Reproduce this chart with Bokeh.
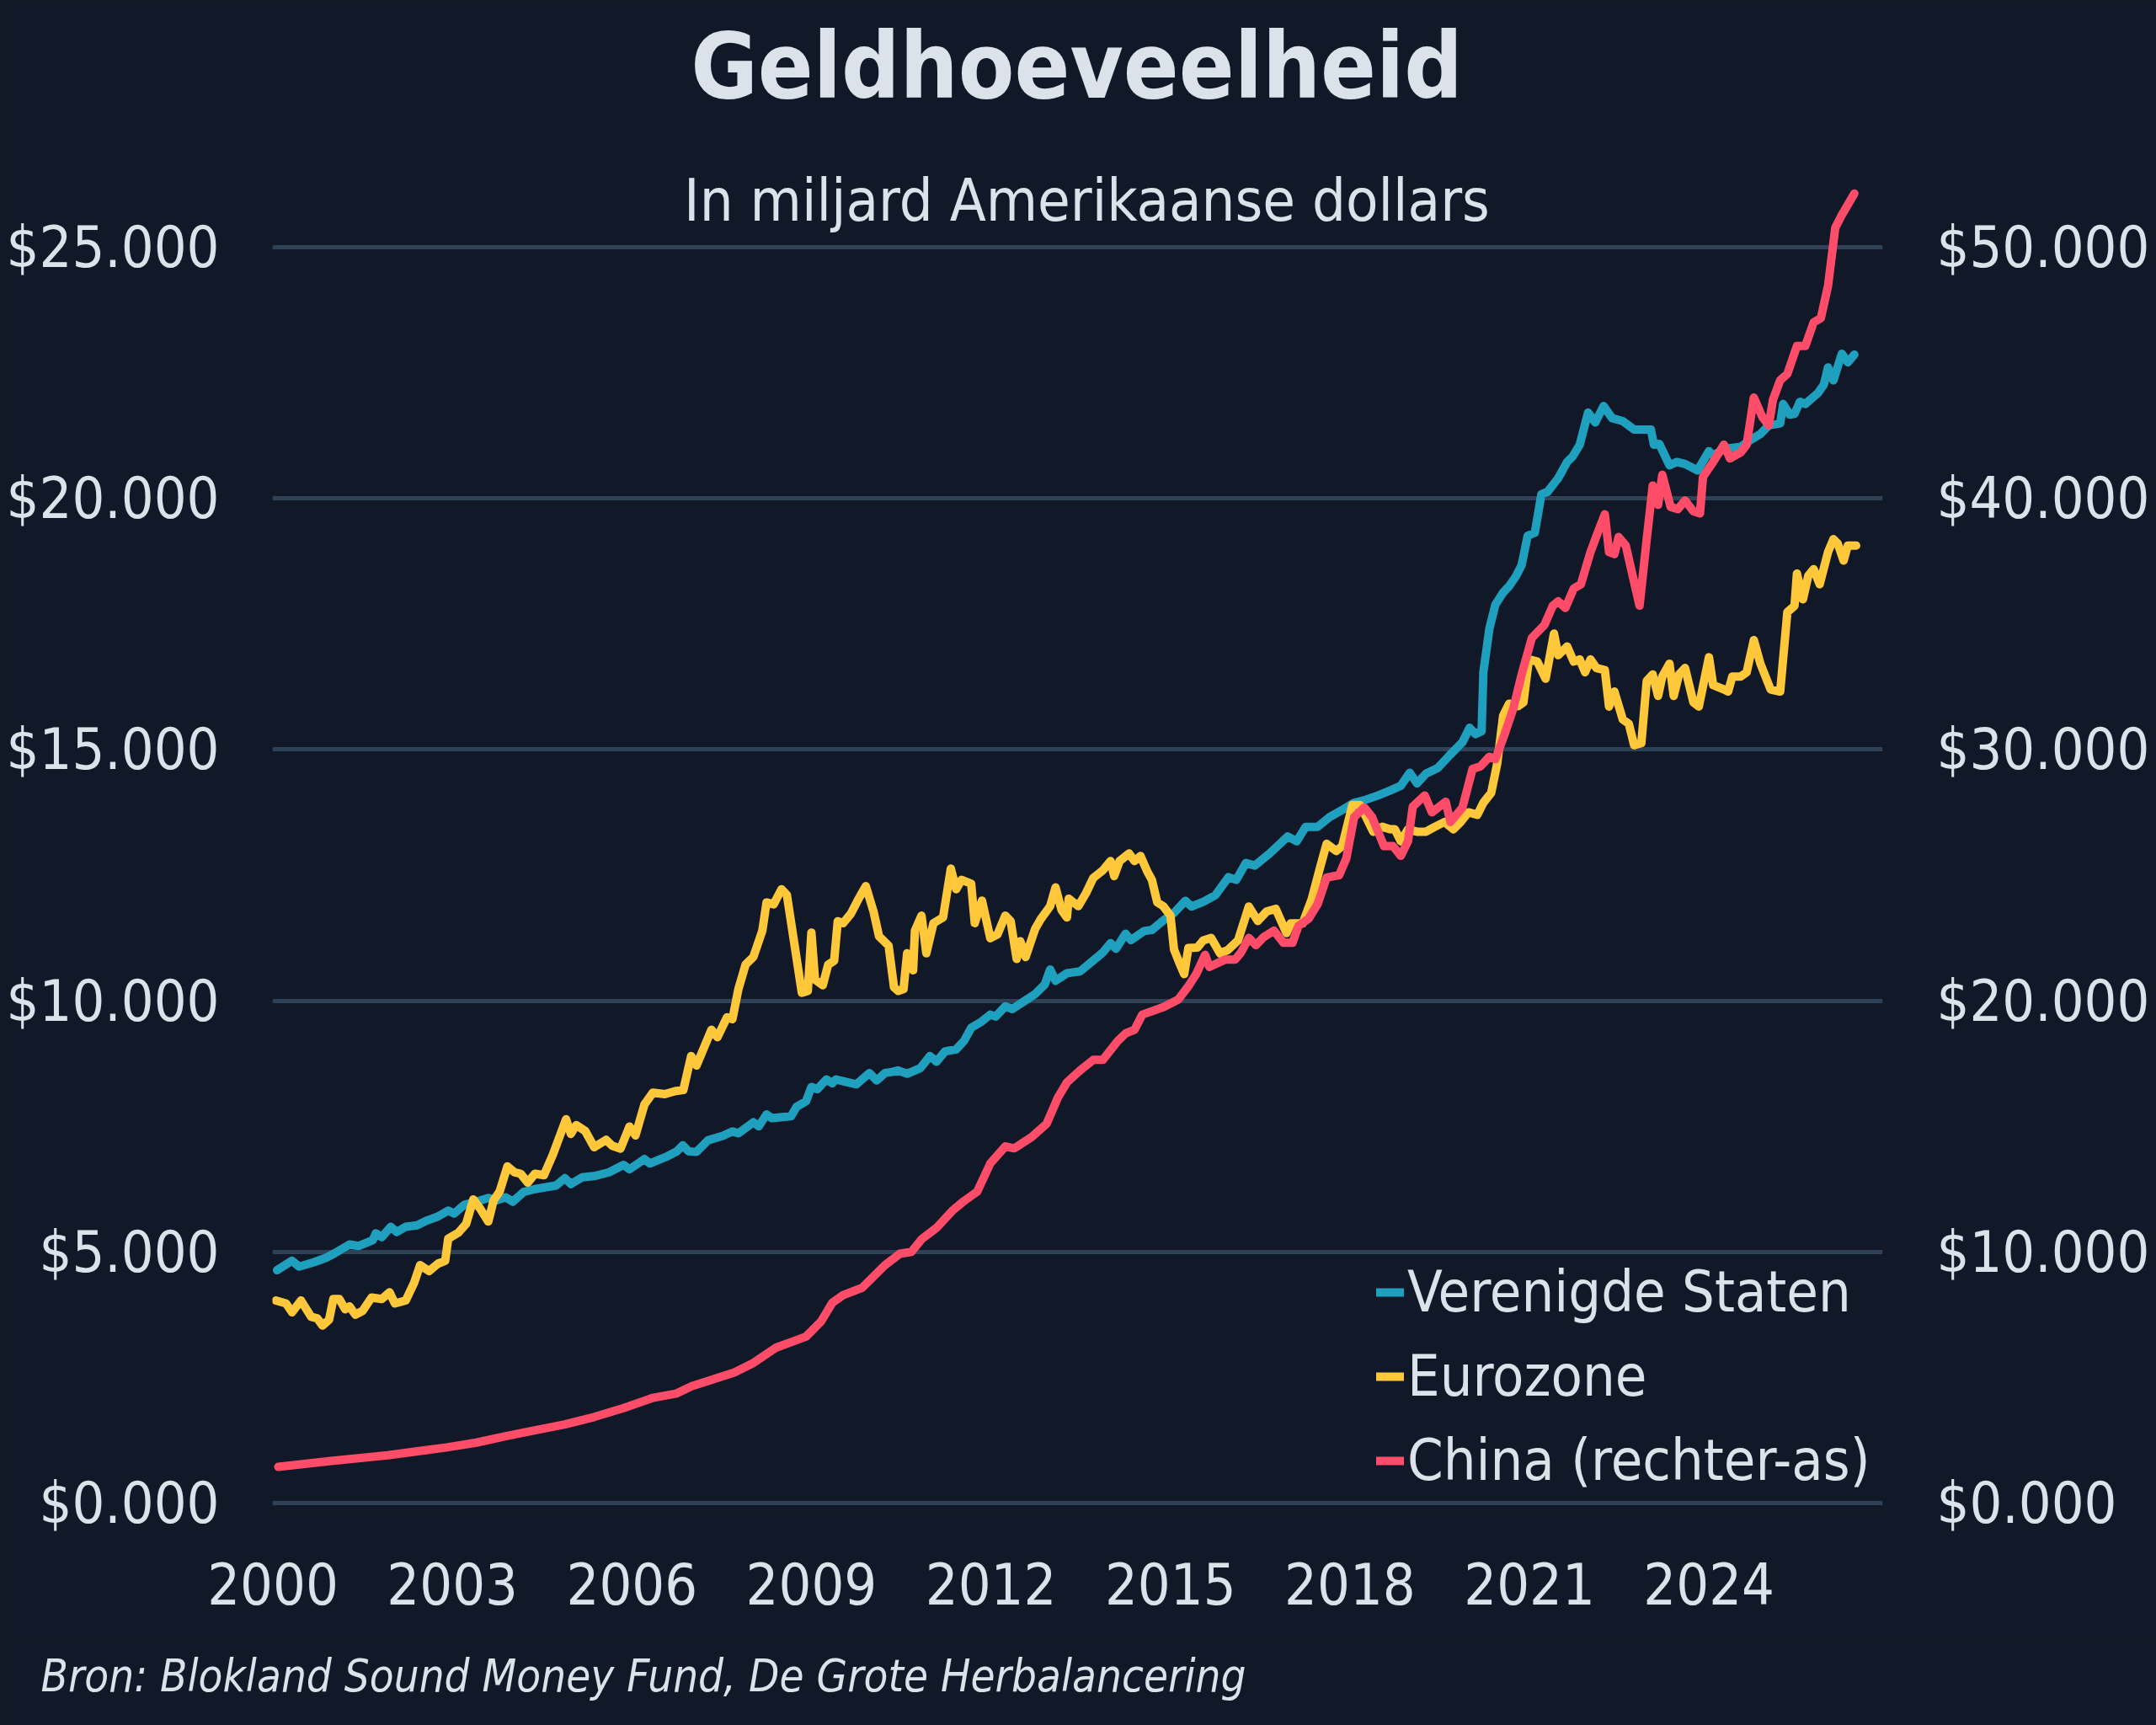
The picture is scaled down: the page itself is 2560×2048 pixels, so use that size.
from bokeh.plotting import figure
from bokeh.layouts import column
from bokeh.models import Range1d, LinearAxis, FixedTicker, Label, Legend, LegendItem
from bokeh.embed import file_html
from bokeh.resources import INLINE

# ---------------- data ----------------
us_year = [
    2000.07, 2000.32, 2000.44, 2000.69, 2000.89, 2001.03, 2001.28, 2001.43, 2001.67, 2001.72,
    2001.82, 2001.97, 2002.07, 2002.22, 2002.41, 2002.56, 2002.76, 2002.93, 2003.03, 2003.20,
    2003.40, 2003.60, 2003.74, 2003.89, 2004.01, 2004.19, 2004.38, 2004.73, 2004.88, 2004.98,
    2005.17, 2005.37, 2005.62, 2005.86, 2005.96, 2006.21, 2006.30, 2006.60, 2006.75, 2006.85,
    2006.95, 2007.08, 2007.27, 2007.52, 2007.68, 2007.78, 2008.03, 2008.12, 2008.25, 2008.34,
    2008.66, 2008.75, 2008.91, 2009.00, 2009.10, 2009.25, 2009.35, 2009.41, 2009.75, 2009.97,
    2010.09, 2010.23, 2010.35, 2010.45, 2010.60, 2010.82, 2010.98, 2011.09, 2011.23, 2011.42,
    2011.55, 2011.67, 2011.83, 2011.99, 2012.08, 2012.24, 2012.36, 2012.55, 2012.74, 2012.90,
    2012.99, 2013.08, 2013.27, 2013.49, 2013.68, 2013.87, 2014.00, 2014.09, 2014.25, 2014.34,
    2014.56, 2014.69, 2014.88, 2015.06, 2015.25, 2015.35, 2015.55, 2015.75, 2015.97, 2016.10,
    2016.26, 2016.41, 2016.66, 2016.96, 2017.11, 2017.26, 2017.46, 2017.66, 2017.87, 2018.07,
    2018.24, 2018.47, 2018.67, 2018.85, 2019.00, 2019.12, 2019.27, 2019.47, 2019.68, 2019.88,
    2020.00, 2020.10, 2020.20, 2020.23, 2020.33, 2020.43, 2020.56, 2020.66, 2020.78, 2020.87,
    2020.97, 2021.09, 2021.20, 2021.30, 2021.48, 2021.63, 2021.72, 2021.84, 2021.98, 2022.10,
    2022.24, 2022.38, 2022.56, 2022.75, 2022.94, 2023.03, 2023.08, 2023.17, 2023.34, 2023.46,
    2023.60, 2023.81, 2024.00, 2024.07, 2024.25, 2024.53, 2024.68, 2024.86, 2025.00, 2025.19,
    2025.24, 2025.35, 2025.43, 2025.52, 2025.61, 2025.82, 2025.92, 2025.99, 2026.08, 2026.22,
    2026.32, 2026.43,
]
us_value = [
    4636, 4824, 4707, 4795, 4883, 4971, 5147, 5118, 5235, 5370,
    5294, 5499, 5394, 5499, 5529, 5617, 5705, 5822, 5763, 5939,
    5998, 6074, 6027, 6086, 5998, 6192, 6250, 6321, 6468, 6350,
    6485, 6509, 6585, 6732, 6644, 6849, 6761, 6908, 7000, 7120,
    7000, 6990, 7220, 7310, 7400, 7360, 7580, 7500, 7736, 7661,
    7699, 7886, 7998, 8283, 8238, 8433, 8358, 8433, 8336, 8561,
    8411, 8561, 8583, 8613, 8546, 8658, 8898, 8785, 8988, 9033,
    9198, 9460, 9573, 9723, 9685, 9888, 9835, 9985, 10135, 10322,
    10622, 10397, 10547, 10584, 10772, 10959, 11147, 11034, 11334, 11207,
    11387, 11409, 11597, 11747, 11990, 11875, 11971, 12100, 12459, 12406,
    12740, 12690, 12933, 13269, 13173, 13462, 13462, 13654, 13798, 13942,
    13990, 14087, 14183, 14279, 14538, 14327, 14519, 14635, 14904, 15144,
    15433, 15308, 15365, 16538, 17404, 17885, 18125, 18250, 18462, 18675,
    19256, 19316, 20085, 20128, 20402, 20726, 20829, 21068, 21709, 21513,
    21838, 21598, 21538, 21368, 21368, 21368, 21068, 21085, 20658, 20726,
    20684, 20556, 20940, 20855, 20983, 21026, 21154, 21282, 21453, 21496,
    21880, 21667, 21684, 21923, 21880, 22094, 22265, 22607, 22350, 22880,
    22709, 22863,
]

eu_year = [
    2000.05, 2000.22, 2000.32, 2000.47, 2000.64, 2000.74, 2000.83, 2000.94, 2001.01, 2001.11,
    2001.21, 2001.28, 2001.38, 2001.50, 2001.65, 2001.82, 2001.95, 2002.04, 2002.22, 2002.36,
    2002.46, 2002.61, 2002.76, 2002.88, 2002.93, 2003.10, 2003.23, 2003.35, 2003.47, 2003.60,
    2003.69, 2003.79, 2003.92, 2004.04, 2004.14, 2004.26, 2004.38, 2004.53, 2004.68, 2004.90,
    2004.98, 2005.07, 2005.22, 2005.37, 2005.57, 2005.67, 2005.81, 2005.96, 2006.06, 2006.21,
    2006.35, 2006.55, 2006.72, 2006.86, 2006.99, 2007.08, 2007.33, 2007.43, 2007.59, 2007.68,
    2007.78, 2007.90, 2008.03, 2008.18, 2008.25, 2008.37, 2008.50, 2008.59, 2008.72, 2008.84,
    2008.94, 2009.00, 2009.06, 2009.19, 2009.28, 2009.38, 2009.44, 2009.53, 2009.66, 2009.79,
    2009.91, 2010.04, 2010.13, 2010.29, 2010.38, 2010.45, 2010.54, 2010.60, 2010.70, 2010.73,
    2010.84, 2010.92, 2011.04, 2011.20, 2011.33, 2011.42, 2011.51, 2011.67, 2011.73, 2011.85,
    2011.99, 2012.11, 2012.24, 2012.33, 2012.43, 2012.49, 2012.58, 2012.74, 2012.83, 2012.99,
    2013.08, 2013.18, 2013.27, 2013.30, 2013.46, 2013.59, 2013.71, 2013.87, 2014.00, 2014.06,
    2014.15, 2014.31, 2014.40, 2014.50, 2014.62, 2014.69, 2014.78, 2014.88, 2015.00, 2015.06,
    2015.15, 2015.23, 2015.30, 2015.45, 2015.55, 2015.68, 2015.83, 2015.96, 2016.13, 2016.31,
    2016.46, 2016.61, 2016.76, 2016.94, 2017.01, 2017.21, 2017.36, 2017.51, 2017.61, 2017.77,
    2017.87, 2018.04, 2018.17, 2018.29, 2018.39, 2018.54, 2018.67, 2018.75, 2018.85, 2018.97,
    2019.12, 2019.27, 2019.42, 2019.58, 2019.73, 2019.85, 2019.98, 2020.13, 2020.23, 2020.36,
    2020.46, 2020.56, 2020.66, 2020.81, 2020.90, 2020.99, 2021.13, 2021.27, 2021.41, 2021.48,
    2021.63, 2021.74, 2021.84, 2021.93, 2022.02, 2022.12, 2022.26, 2022.33, 2022.42, 2022.56,
    2022.66, 2022.75, 2022.87, 2022.96, 2023.06, 2023.15, 2023.22, 2023.34, 2023.41, 2023.50,
    2023.60, 2023.74, 2023.83, 2024.00, 2024.07, 2024.25, 2024.32, 2024.39, 2024.53, 2024.63,
    2024.75, 2024.86, 2025.03, 2025.19, 2025.31, 2025.43, 2025.47, 2025.57, 2025.66, 2025.75,
    2025.85, 2025.99, 2026.08, 2026.15, 2026.25, 2026.32, 2026.46,
]
eu_value = [
    4032, 3973, 3797, 4032, 3709, 3680, 3533, 3651, 4061, 4061,
    3856, 3915, 3750, 3827, 4091, 4061, 4196, 3973, 4032, 4384,
    4736, 4619, 4766, 4824, 5264, 5382, 5558, 6045, 5851, 5605,
    6027, 6203, 6702, 6585, 6556, 6380, 6556, 6526, 6937, 7641,
    7348, 7524, 7407, 7084, 7231, 7113, 7055, 7495, 7319, 7935,
    8170, 8140, 8200, 8223, 8898, 8710, 9423, 9273, 9670, 9633,
    10232, 10720, 10870, 11394, 11957, 11919, 12219, 12107, 11095, 10158,
    10195, 11357, 10420, 10307, 10720, 10795, 11582, 11544, 11732, 12032,
    12280, 11769, 11282, 11095, 10270, 10195, 10232, 10945, 10607, 11394,
    11694, 10945, 11544, 11657, 12631, 12219, 12406, 12331, 11544, 11994,
    11244, 11319, 11694, 11582, 10832, 11185, 10870, 11432, 11619, 11882,
    12256, 11807, 11657, 12032, 11882, 12144, 12444, 12594, 12781, 12481,
    12781, 12931, 12781, 12881, 12556, 12406, 11957, 11882, 11694, 11020,
    10750, 10530, 11050, 11058, 11202, 11250, 10942, 11010, 11202, 11875,
    11587, 11779, 11827, 11346, 11539, 11539, 12019, 12692, 13125, 12981,
    13077, 13894, 13894, 13606, 13365, 13462, 13413, 13413, 13173, 13413,
    13365, 13365, 13462, 13558, 13413, 13558, 13750, 13702, 13942, 14135,
    14712, 15673, 15913, 15865, 15940, 16795, 16752, 16410, 17308, 16880,
    17051, 16752, 16795, 16538, 16795, 16624, 16581, 15855, 16154, 15598,
    15513, 15085, 15128, 16368, 16496, 16068, 16453, 16709, 16068, 16496,
    16624, 15940, 15855, 16838, 16282, 16197, 16154, 16453, 16453, 16538,
    17179, 16709, 16197, 16154, 17735, 17863, 18504, 17991, 18462, 18590,
    18291, 18932, 19188, 19103, 18761, 19060, 19060,
]

# China, read against the right-hand axis
cn_year = [
    2000.09, 2000.94, 2001.92, 2002.91, 2003.40, 2003.89, 2004.38, 2004.88, 2005.37, 2005.86,
    2006.35, 2006.75, 2007.00, 2007.33, 2007.71, 2008.03, 2008.40, 2008.91, 2009.16, 2009.35,
    2009.53, 2009.85, 2010.23, 2010.48, 2010.67, 2010.85, 2011.10, 2011.36, 2011.55, 2011.77,
    2011.99, 2012.24, 2012.39, 2012.68, 2012.93, 2013.12, 2013.27, 2013.49, 2013.71, 2013.87,
    2014.12, 2014.25, 2014.40, 2014.53, 2014.88, 2015.13, 2015.30, 2015.43, 2015.58, 2015.65,
    2015.91, 2016.08, 2016.18, 2016.31, 2016.43, 2016.56, 2016.73, 2016.89, 2017.04, 2017.14,
    2017.31, 2017.46, 2017.61, 2017.82, 2017.94, 2018.07, 2018.24, 2018.37, 2018.57, 2018.72,
    2018.85, 2018.97, 2019.05, 2019.25, 2019.37, 2019.60, 2019.68, 2019.88, 2020.05, 2020.18,
    2020.33, 2020.43, 2020.58, 2020.73, 2020.87, 2021.04, 2021.25, 2021.39, 2021.48, 2021.60,
    2021.74, 2021.86, 2022.02, 2022.14, 2022.26, 2022.33, 2022.42, 2022.49, 2022.61, 2022.70,
    2022.84, 2022.96, 2023.06, 2023.15, 2023.22, 2023.36, 2023.48, 2023.60, 2023.74, 2023.85,
    2023.90, 2024.07, 2024.25, 2024.35, 2024.53, 2024.63, 2024.75, 2024.89, 2025.00, 2025.07,
    2025.19, 2025.31, 2025.47, 2025.61, 2025.75, 2025.87, 2025.99, 2026.11, 2026.22, 2026.43,
]
cn_value = [
    1440, 1667, 1902, 2218, 2406, 2665, 2899, 3134, 3427, 3779,
    4190, 4366, 4650, 4903, 5200, 5578, 6177, 6627, 7226, 7976,
    8276, 8575, 9475, 9925, 10000, 10525, 10975, 11649, 12024, 12399,
    13523, 14198, 14123, 14572, 15097, 16147, 16746, 17226, 17646, 17646,
    18396, 18696, 18845, 19445, 19745, 20045, 20577, 21058, 21827, 21346,
    21635, 21635, 21923, 22500, 22212, 22538, 22788, 22308, 22308, 22981,
    23269, 23846, 24904, 25000, 25673, 27308, 27692, 27308, 26154, 26154,
    25769, 26346, 27731, 28173, 27500, 27923, 27115, 27692, 29231, 29327,
    29712, 29615, 30577, 31635, 32991, 34444, 34957, 35727, 35898, 35641,
    36410, 36581, 37863, 38632, 39368, 37863, 37778, 38461, 38120, 37180,
    35727, 38376, 40513, 39744, 40940, 39658, 39573, 39915, 39487, 39402,
    40855, 41453, 42137, 41590, 41829, 42137, 44017, 43248, 42906, 43932,
    44701, 44957, 46068, 46068, 47009, 47179, 48462, 50769, 51282, 52137,
]

series_names = ["Verenigde Staten", "Eurozone", "China (rechter-as)"]
left_ticks = [0, 5000, 10000, 15000, 20000, 25000]
left_labels = ["$0.000", "$5.000", "$10.000", "$15.000", "$20.000", "$25.000"]
right_ticks = [0, 10000, 20000, 30000, 40000, 50000]
right_labels = ["$0.000", "$10.000", "$20.000", "$30.000", "$40.000", "$50.000"]
year_ticks = [2000, 2003, 2006, 2009, 2012, 2015, 2018, 2021, 2024]
year_labels = [str(y) for y in year_ticks]

title_text = "Geldhoeveelheid"
subtitle_text = "In miljard Amerikaanse dollars"
source_text = "Bron: Blokland Sound Money Fund, De Grote Herbalancering"

# ---------------- style ----------------
BG = "#111827"
TXT = "#dbe2ea"
GRID = "#2e4157"
COL_US = "#20a0bf"
COL_EU = "#ffc83a"
COL_CN = "#ff4d69"
FONT = "DejaVu Sans Condensed"
LW = 10

W, H = 2560, 2048
SRC_H = 100                      # strip at the bottom for the source line
MAIN_H = H - SRC_H
FRAME_L, FRAME_R, FRAME_T, FRAME_B = 323, 2235, 0, 1793
Y0_PX, Y25_PX = 1784, 293
X2000_PX, PX_PER_YEAR = 323.5, 71.05
PX_PER_UNIT = (Y0_PX - Y25_PX) / 25000.0
LABEL_SHIFT = 0.40               # em offset of Label baseline in this renderer

y_start = -(FRAME_B - Y0_PX) / PX_PER_UNIT
y_end = 25000 + (Y25_PX - FRAME_T) / PX_PER_UNIT
x_start = 2000 + (FRAME_L - X2000_PX) / PX_PER_YEAR
x_end = 2000 + (FRAME_R - X2000_PX) / PX_PER_YEAR


def dx(px):
    return 2000 + (px - X2000_PX) / PX_PER_YEAR


def dy(pxy):
    return (Y0_PX - pxy) / PX_PER_UNIT


p = figure(width=W, height=MAIN_H, output_backend="svg", toolbar_location=None,
           x_range=Range1d(x_start, x_end), y_range=Range1d(y_start, y_end),
           min_border_left=FRAME_L, min_border_right=W - FRAME_R,
           min_border_top=FRAME_T, min_border_bottom=MAIN_H - FRAME_B,
           background_fill_color=BG, border_fill_color=BG,
           outline_line_color=None)
p.outline_line_alpha = 0
p.extra_y_ranges = {"china": Range1d(2 * y_start, 2 * y_end)}


def style_axis(ax, standoff):
    ax.axis_line_color = None
    ax.major_tick_line_color = None
    ax.minor_tick_line_color = None
    ax.major_tick_in = 0
    ax.major_tick_out = 0
    ax.minor_tick_in = 0
    ax.minor_tick_out = 0
    ax.major_label_text_font = FONT
    ax.major_label_text_font_size = "68px"
    ax.major_label_text_color = TXT
    ax.major_label_standoff = standoff


xa = p.xaxis[0]
xa.ticker = FixedTicker(ticks=year_ticks)
xa.major_label_overrides = {t: l for t, l in zip(year_ticks, year_labels)}
style_axis(xa, 61)

ya = p.yaxis[0]
ya.ticker = FixedTicker(ticks=left_ticks)
ya.major_label_overrides = {t: l for t, l in zip(left_ticks, left_labels)}
style_axis(ya, 63)

ra = LinearAxis(y_range_name="china", ticker=FixedTicker(ticks=right_ticks))
ra.major_label_overrides = {t: l for t, l in zip(right_ticks, right_labels)}
style_axis(ra, 64)
p.add_layout(ra, "right")

p.xgrid.visible = False
p.ygrid.grid_line_color = GRID
p.ygrid.grid_line_width = 5
p.ygrid.ticker = FixedTicker(ticks=left_ticks)

r_us = p.line(us_year, us_value, line_color=COL_US, line_width=LW, line_cap="round", line_join="round")
r_eu = p.line(eu_year, eu_value, line_color=COL_EU, line_width=LW, line_cap="round", line_join="round")
r_cn = p.line(cn_year, cn_value, y_range_name="china", line_color=COL_CN, line_width=LW,
              line_cap="round", line_join="round")

legend = Legend(items=[LegendItem(label=series_names[0], renderers=[r_us]),
                       LegendItem(label=series_names[1], renderers=[r_eu]),
                       LegendItem(label=series_names[2], renderers=[r_cn])],
                location=(1311, 20), orientation="vertical",
                background_fill_alpha=0, border_line_alpha=0,
                padding=0, margin=0, spacing=21,
                glyph_width=33, glyph_height=20, label_standoff=4,
                label_text_font=FONT, label_text_font_size="68px", label_text_color=TXT)
p.add_layout(legend)

# title and subtitle (inside the top of the frame)
p.add_layout(Label(x=dx(1278), y=dy(121 - LABEL_SHIFT * 108), text=title_text,
                   text_align="center", text_baseline="alphabetic", text_font=FONT,
                   text_font_style="bold", text_font_size="108px", text_color=TXT))
p.add_layout(Label(x=dx(1290), y=dy(265 - LABEL_SHIFT * 70), text=subtitle_text,
                   text_align="center", text_baseline="alphabetic", text_font=FONT,
                   text_font_size="70px", text_color=TXT))

# source line in a strip below the chart
ps = figure(width=W, height=SRC_H, output_backend="svg", toolbar_location=None,
            x_range=Range1d(0, W), y_range=Range1d(0, SRC_H),
            x_axis_location=None, y_axis_location=None, min_border=0,
            background_fill_color=BG, border_fill_color=BG, outline_line_color=None)
ps.grid.visible = False
for fig in (p, ps):
    if "frame_align" in fig.properties():
        fig.frame_align = False
src_baseline = 2010 - MAIN_H - LABEL_SHIFT * 52.5      # px from top of the strip
ps.add_layout(Label(x=48, y=SRC_H - src_baseline, text=source_text, text_align="left",
                    text_baseline="alphabetic", text_font=FONT, text_font_style="italic",
                    text_font_size="52.5px", text_color=TXT))

layout = column(p, ps, spacing=0)
html = file_html(layout, INLINE).replace("<body>", '<body style="margin:0;background:#111827">')
open("out.html", "w").write(html)
